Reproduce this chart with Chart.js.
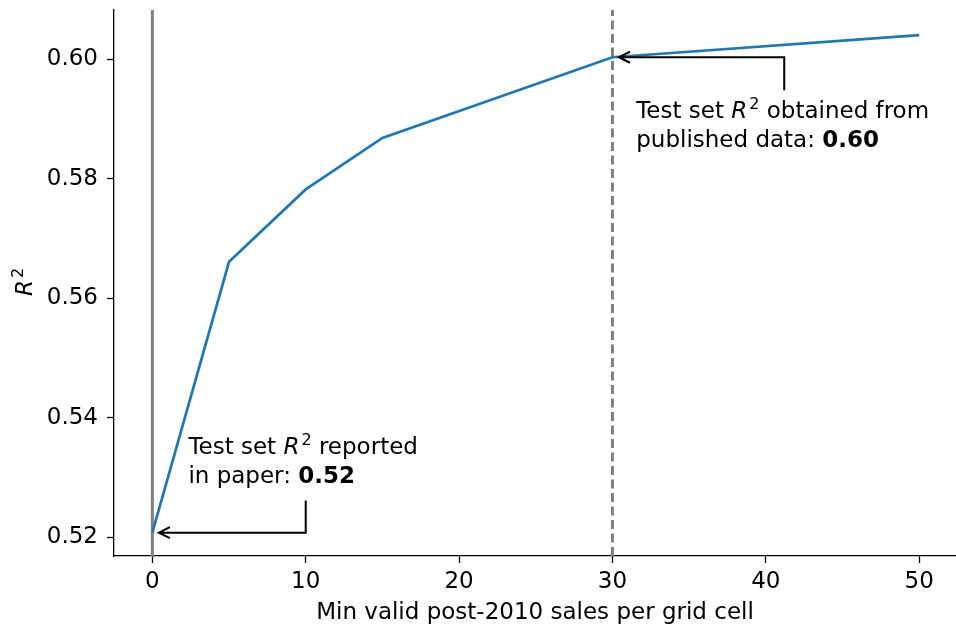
<!DOCTYPE html>
<html>
<head>
<meta charset="utf-8">
<script src="https://cdn.jsdelivr.net/npm/chart.js@4.4.0/dist/chart.umd.min.js"></script>
<style>
  html, body { margin: 0; padding: 0; background: #fff; overflow: hidden; }
  canvas { display: block; }
</style>
</head>
<body>
<canvas id="r2Chart" width="956" height="626"></canvas>
<script>
// R^2 on the test set against the minimum number of valid sales per cell
const minSales = [0, 5, 10, 15, 30, 50];
const testR2 = [0.5208, 0.5661, 0.5782, 0.5868, 0.6003, 0.6040];

const xTicks = [0, 10, 20, 30, 40, 50];
const yTicks = [0.52, 0.54, 0.56, 0.58, 0.60];

const paperIdx = 0;      // threshold used in the paper
const publishedIdx = 4;  // threshold that matches the published data

const X_MIN = -2.5, X_MAX = 52.4;
const Y_MIN = 0.5169, Y_MAX = 0.6082;

const FONT = "'DejaVu Sans', sans-serif";
const SIZE = 23;
const fonts = {
  n: `${SIZE}px ${FONT}`,
  i: `italic ${SIZE}px ${FONT}`,
  b: `bold ${SIZE}px ${FONT}`,
  s: `16px ${FONT}`
};

const toPoints = (xs, ys) => xs.map((x, i) => ({ x, y: ys[i] }));

const vline = (x, dash) => ({
  data: [{ x, y: Y_MIN }, { x, y: Y_MAX }],
  borderColor: 'gray',
  borderWidth: 3,
  borderDash: dash,
  pointRadius: 0
});

// draws a line of text made of runs in different styles (normal, italic, bold, superscript)
const drawRich = (c, parts, x, y) => {
  let cx = x;
  parts.forEach(([text, style]) => {
    c.font = fonts[style];
    const dy = style === 's' ? -9 : 0;
    c.fillText(text, cx, y + dy);
    cx += c.measureText(text).width + (style === 'i' ? 2 : 0);
  });
  return cx - x;
};

const notes = [
  {
    idx: paperIdx, elbowX: 10, elbowY: 0.5262, textX: 2.35, textY: 0.5339,
    lines: [
      [['Test set ', 'n'], ['R', 'i'], ['2', 's'], [' reported', 'n']],
      [['in paper: ', 'n'], [testR2[paperIdx].toFixed(2), 'b']]
    ]
  },
  {
    idx: publishedIdx, elbowX: 41.2, elbowY: 0.5948, textX: 31.55, textY: 0.5901,
    lines: [
      [['Test set ', 'n'], ['R', 'i'], ['2', 's'], [' obtained from', 'n']],
      [['published data: ', 'n'], [testR2[publishedIdx].toFixed(2), 'b']]
    ]
  }
];

const annotationPlugin = {
  id: 'notes',
  afterDatasetsDraw(chart) {
    const c = chart.ctx;
    const xs = chart.scales.x;
    const ys = chart.scales.y;
    c.save();
    c.strokeStyle = '#000';
    c.fillStyle = '#000';
    c.lineWidth = 2;
    c.textBaseline = 'alphabetic';
    c.textAlign = 'left';
    notes.forEach((n) => {
      const px = xs.getPixelForValue(minSales[n.idx]);
      const py = ys.getPixelForValue(testR2[n.idx]);
      const ex = xs.getPixelForValue(n.elbowX);
      const ey = ys.getPixelForValue(n.elbowY);
      const tip = px + 6.5;
      c.beginPath();
      c.moveTo(ex, ey);
      c.lineTo(ex, py);
      c.lineTo(tip, py);
      c.moveTo(tip + 11, py - 5.5);
      c.lineTo(tip, py);
      c.lineTo(tip + 11, py + 5.5);
      c.stroke();
      const tx = xs.getPixelForValue(n.textX);
      const ty = ys.getPixelForValue(n.textY);
      n.lines.forEach((line, i) => drawRich(c, line, tx, ty + i * 29));
    });

    // y axis title, rotated
    const parts = [['R', 'i'], ['2', 's']];
    c.translate(24, (chart.chartArea.top + chart.chartArea.bottom) / 2);
    c.rotate(-Math.PI / 2);
    let w = 0;
    parts.forEach(([t, s]) => { c.font = fonts[s]; w += c.measureText(t).width; });
    drawRich(c, parts, -w / 2, 8);
    c.restore();
  }
};

const ctx = document.querySelector('#r2Chart').getContext('2d');
const r2Chart = new Chart(ctx, {
  type: 'line',
  data: {
    datasets: [
      {
        data: toPoints(minSales, testR2),
        borderColor: '#1f77b4',
        borderWidth: 2.7,
        pointRadius: 0,
        tension: 0
      },
      vline(minSales[paperIdx], []),
      vline(minSales[publishedIdx], [9, 4.5])
    ]
  },
  options: {
    responsive: false,
    animation: false,
    layout: { padding: { top: 10, left: 0, right: 0, bottom: 0 } },
    plugins: {
      legend: { display: false },
      tooltip: { enabled: false }
    },
    scales: {
      x: {
        type: 'linear',
        min: X_MIN,
        max: X_MAX,
        afterBuildTicks: (s) => { s.ticks = xTicks.map((v) => ({ value: v })); },
        afterFit: (s) => {
          s.height = 70;
          s.paddingLeft = 0;
          s.paddingRight = 0;
        },
        grid: { drawOnChartArea: false, drawTicks: true, tickLength: 7, tickWidth: 1.3, tickColor: '#000' },
        border: { display: true, color: '#000', width: 1.3 },
        ticks: {
          color: '#000',
          font: { family: FONT, size: SIZE },
          padding: 5,
          maxRotation: 0,
          callback: (v) => String(v)
        },
        title: {
          display: true,
          text: 'Min valid post-2010 sales per grid cell',
          color: '#000',
          font: { family: FONT, size: SIZE },
          padding: { top: 0, bottom: -1 }
        }
      },
      y: {
        type: 'linear',
        min: Y_MIN,
        max: Y_MAX,
        afterBuildTicks: (s) => { s.ticks = yTicks.map((v) => ({ value: v })); },
        afterFit: (s) => {
          s.width = 114;
          s.paddingTop = 0;
          s.paddingBottom = 0;
        },
        grid: { drawOnChartArea: false, drawTicks: true, tickLength: 7, tickWidth: 1.3, tickColor: '#000' },
        border: { display: true, color: '#000', width: 1.3 },
        ticks: {
          color: '#000',
          font: { family: FONT, size: SIZE },
          padding: 9,
          callback: (v) => v.toFixed(2)
        }
      }
    }
  },
  plugins: [annotationPlugin]
});
</script>
</body>
</html>
